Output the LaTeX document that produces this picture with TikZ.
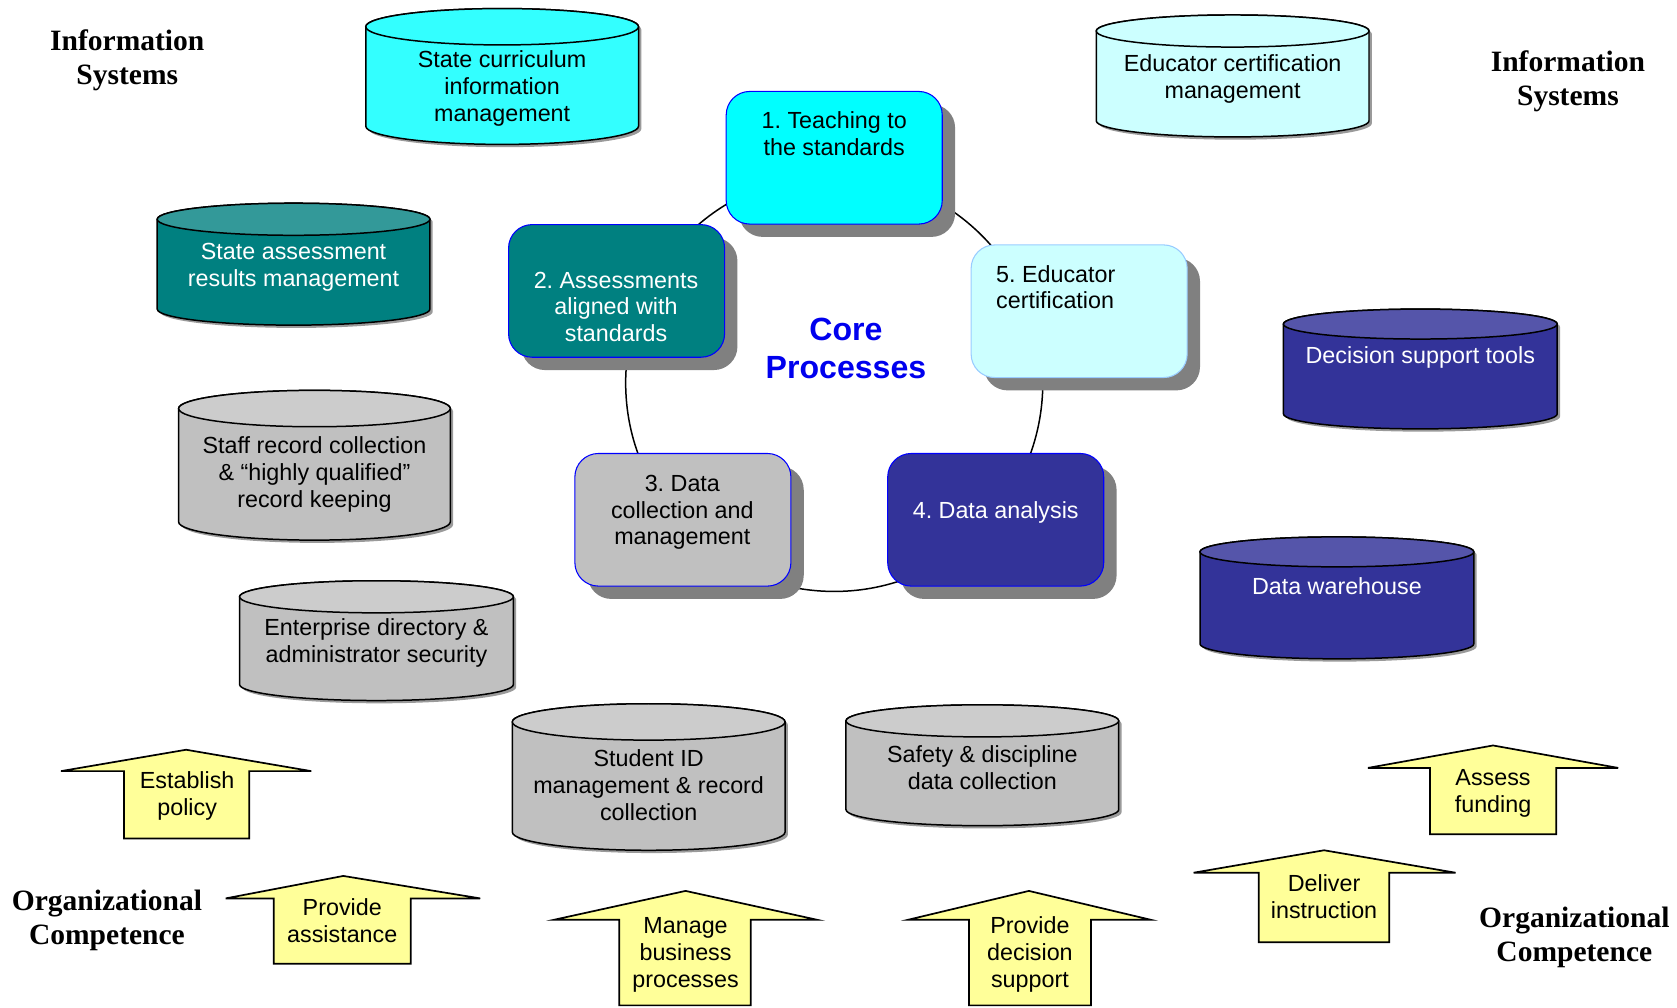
\documentclass[tikz,border=0pt]{standalone}
\usepackage{fontspec}
\setmainfont{Liberation Serif}
\setsansfont{Liberation Sans}
\usetikzlibrary{shadows}
\frenchspacing
\definecolor{cyanA}{HTML}{33FFFF}
\definecolor{cyanB}{HTML}{00FFFF}
\definecolor{lcyan}{HTML}{CCFFFF}
\definecolor{tealA}{HTML}{008080}
\definecolor{tealtop}{HTML}{339999}
\definecolor{greyB}{HTML}{C0C0C0}
\definecolor{greytop}{HTML}{CCCCCC}
\definecolor{navy}{HTML}{333399}
\definecolor{navytop}{HTML}{5555AA}
\definecolor{yel}{HTML}{FFFF99}
\definecolor{shgrey}{HTML}{808080}
\definecolor{cylsh}{HTML}{9A9A9A}
\definecolor{lblue}{HTML}{99CCFF}
\definecolor{coreblue}{HTML}{0000EE}

% cylinder: #1 left, #2 right, #3 top, #4 bottom, #5 ry, #6 body fill, #7 top fill
\newcommand{\dbcyl}[7]{%
 \pgfmathsetmacro\cylcx{(#1+#2)/2}%
 \pgfmathsetmacro\cylrx{(#2-#1)/2}%
 \pgfmathsetmacro\cylyt{-(#3)-(#5)}%
 \pgfmathsetmacro\cylyb{-(#4)+(#5)}%
 \fill[cylsh,xshift=1.3pt,yshift=-1.3pt] (#1,\cylyt) -- (#1,\cylyb) arc[start angle=180,end angle=360,x radius=\cylrx,y radius=#5] -- (#2,\cylyt) arc[start angle=0,end angle=180,x radius=\cylrx,y radius=#5] -- cycle;
 \filldraw[cylline,fill=#6] (#1,\cylyt) -- (#1,\cylyb) arc[start angle=180,end angle=360,x radius=\cylrx,y radius=#5] -- (#2,\cylyt) arc[start angle=0,end angle=180,x radius=\cylrx,y radius=#5] -- cycle;
 \filldraw[cylline,fill=#7] (\cylcx,\cylyt) ellipse[x radius=\cylrx,y radius=#5];
}
% up arrow: #1 tip x, #2 tip y, #3 head base y, #4 head left, #5 head right, #6 stem left, #7 stem right, #8 bottom
\newcommand{\uparrowshape}[8]{%
 \filldraw[arrowshape] (#6,-#8) -- (#6,-#3) -- (#4,-#3) -- (#1,-#2) -- (#5,-#3) -- (#7,-#3) -- (#7,-#8) -- cycle;
}

\begin{document}
\begin{tikzpicture}[x=0.5pt,y=0.5pt,
 cylline/.style={draw=black,line width=0.7pt},
 arrowshape/.style={draw=black,line width=0.8pt,fill=yel,line join=miter},
 sanstext/.style={font=\sffamily\fontsize{10.9}{12.6}\selectfont,align=center,inner sep=0pt},
 whitetext/.style={sanstext,text=white},
 serifhead/.style={font=\rmfamily\bfseries\fontsize{13.8}{15.6}\selectfont,align=center,inner sep=0pt},
 procbox/.style={line width=0.5pt,rounded corners=11pt,minimum width=101pt,minimum height=62pt,inner sep=0pt,
   drop shadow={shadow xshift=6pt,shadow yshift=-6pt,fill=shgrey,opacity=1}},
 ring/.style={draw=black,line width=0.7pt}
]
\useasboundingbox (0,0) rectangle (1568,-942);

% ring of core processes
\coordinate (ringc) at (780,-358);
\draw[ring] (ringc) circle[radius=195];

% process boxes
\node[procbox,draw=blue,fill=cyanB] (p1) at (780,-147.5) {};
\node[procbox,draw=blue,fill=tealA] (p2) at (576.5,-272) {};
\node[procbox,draw=lblue,fill=lcyan] (p5) at (1009,-291) {};
\node[procbox,draw=blue,fill=greyB] (p3) at (638.5,-486) {};
\node[procbox,draw=blue,fill=navy] (p4) at (931,-486) {};

\node[sanstext] (t1) at (780,-125) {1. Teaching to\\the standards};
\node[whitetext] (t2) at (576,-287) {2. Assessments\\aligned with\\standards};
\node[sanstext,align=left,anchor=west] (t5) at (931,-268.5) {5. Educator\\certification};
\node[sanstext] (t3) at (638,-479) {3. Data\\collection and\\management};
\node[whitetext] (t4) at (931,-479) {4. Data analysis};

\node[font=\sffamily\bfseries\fontsize{15}{17.5}\selectfont,text=coreblue,align=center,inner sep=0pt] (core) at (791,-326) {Core\\Processes};

% cylinders
\dbcyl{342}{597}{8}{135}{17}{cyanA}{cyanA}
\node[sanstext] (cur) at (469.5,-83) {State curriculum\\information\\management};
\dbcyl{1025}{1280}{14}{128}{15}{lcyan}{lcyan}
\node[sanstext] (edu) at (1152.5,-74) {Educator certification\\management};
\dbcyl{147}{402}{190}{304}{15}{tealA}{tealtop}
\node[whitetext] (sar) at (274.5,-250) {State assessment\\results management};
\dbcyl{167}{421}{365}{505}{17}{greyB}{greytop}
\node[sanstext] (staff) at (294,-444) {Staff record collection\\\& “highly qualified”\\record keeping};
\dbcyl{224}{480}{543}{655}{15}{greyB}{greytop}
\node[sanstext] (ent) at (352,-601) {Enterprise directory \&\\administrator security};
\dbcyl{479}{734}{658}{795}{17}{greyB}{greytop}
\node[sanstext] (sid) at (606.5,-734) {Student ID\\management \& record\\collection};
\dbcyl{791}{1046}{659}{772}{15}{greyB}{greytop}
\node[sanstext] (safe) at (918.5,-717.5) {Safety \& discipline\\data collection};
\dbcyl{1200}{1456}{289}{401}{14}{navy}{navytop}
\node[whitetext] (dst) at (1328,-334) {Decision support tools};
\dbcyl{1122}{1378}{502}{616}{14}{navy}{navytop}
\node[whitetext] (dw) at (1250,-548.5) {Data warehouse};

% up arrows
\uparrowshape{174}{701}{721}{57}{291}{116}{233}{784}
\node[sanstext] (a1) at (175,-744) {Establish\\policy};
\uparrowshape{321}{819}{840}{211}{449}{256}{384}{901}
\node[sanstext] (a2) at (320,-860.5) {Provide\\assistance};
\uparrowshape{641}{833}{860}{518}{764}{579}{702}{940}
\node[sanstext] (a3) at (641,-892.5) {Manage\\business\\processes};
\uparrowshape{962}{833}{860}{849}{1076}{906}{1020}{940}
\node[sanstext] (a4) at (963,-892.5) {Provide\\decision\\support};
\uparrowshape{1238}{795}{816}{1116}{1361}{1177}{1299}{881}
\node[sanstext] (a5) at (1238,-838) {Deliver\\instruction};
\uparrowshape{1396}{697}{718}{1279}{1513}{1337}{1455}{780}
\node[sanstext] (a6) at (1396,-742) {Assess\\funding};

% headings
\node[serifhead] (is1) at (119,-56.5) {Information\\Systems};
\node[serifhead] (is2) at (1466,-76) {Information\\Systems};
\node[serifhead] (oc1) at (100,-860.5) {Organizational\\Competence};
\node[serifhead] (oc2) at (1472,-876.5) {Organizational\\Competence};
\end{tikzpicture}
\end{document}
